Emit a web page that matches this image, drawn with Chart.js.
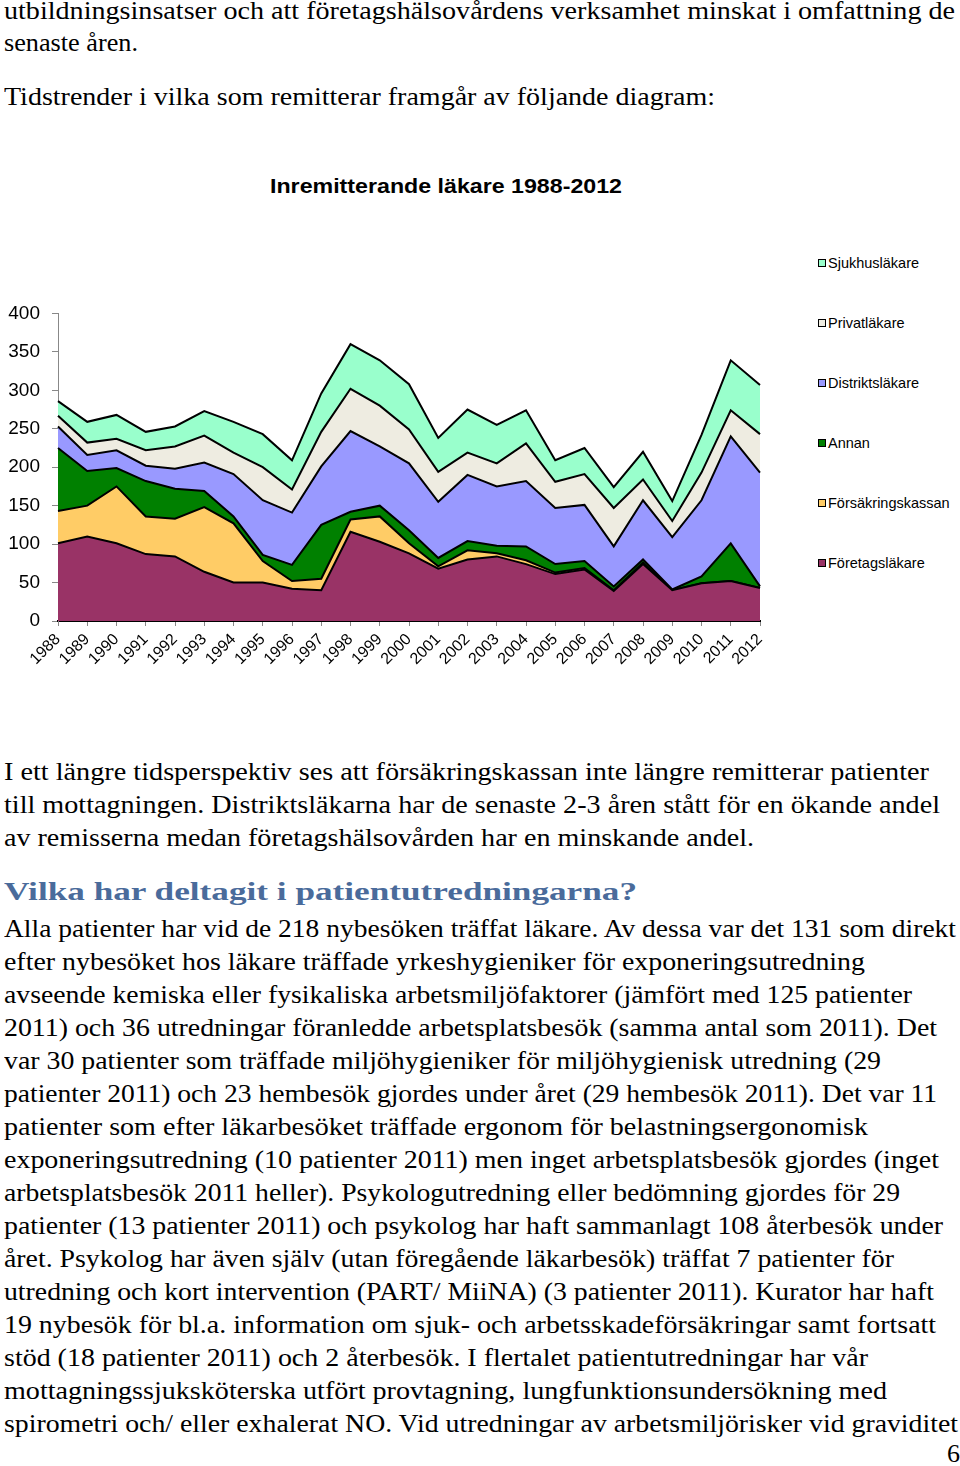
<!DOCTYPE html>
<html lang="sv">
<head>
<meta charset="utf-8">
<script src="https://cdn.jsdelivr.net/npm/chart.js@4.4.0/dist/chart.umd.min.js"></script>
<style>
  html, body { margin: 0; padding: 0; background: #fff; }
  body { width: 960px; height: 1466px; position: relative; overflow: hidden; }
  .ln {
    position: absolute; left: 4px; white-space: nowrap;
    font-family: "Liberation Serif", "Times New Roman", serif;
    font-size: 26px; line-height: 26px; color: #000;
    transform-origin: 0 0;
  }
  .ln.head { font-weight: bold; color: #4a6b9b; }
  #chartTitle {
    position: absolute; left: 270px; top: 175px; white-space: nowrap;
    font-family: "Liberation Sans", Arial, sans-serif; font-weight: bold;
    font-size: 21px; line-height: 21px; color: #000; transform-origin: 0 0;
  }
  #chartWrap { position: absolute; left: 0; top: 290px; width: 780px; height: 400px; }
  .lg {
    position: absolute; left: 818px; height: 16px; display: flex; align-items: center;
    font-family: "Liberation Sans", Arial, sans-serif; font-size: 14.5px; color: #000; white-space: nowrap;
  }
  .lg i { display: inline-block; width: 6px; height: 6px; border: 1.5px solid #000; margin-right: 2px; }
</style>
</head>
<body>
<div id="chartTitle">Inremitterande läkare 1988-2012</div>
<div id="chartWrap"><canvas id="areaChart"></canvas></div>
<div id="legend"></div>

<script>
// chart data
const years = ["1988", "1989", "1990", "1991", "1992", "1993", "1994", "1995", "1996", "1997", "1998", "1999",
    "2000", "2001", "2002", "2003", "2004", "2005", "2006", "2007", "2008", "2009", "2010", "2011", "2012"];
const foretagslakare = [101, 110, 101, 87, 84, 64, 50, 50, 42, 40, 116, 103, 88, 68, 80, 84, 74, 61, 67, 39, 74, 40, 49, 52, 43];
const forsakringskassan = [42, 40, 74, 49, 49, 84, 77, 28, 10, 15, 16, 33, 13, 3, 12, 4, 5, 2, 2, 1, 2, 0, 0, 0, 0];
const annan = [82, 45, 24, 46, 39, 21, 9, 8, 21, 70, 10, 14, 17, 11, 12, 10, 18, 11, 9, 5, 4, 1, 9, 49, 2];
const distriktslakare = [28, 21, 23, 20, 26, 37, 55, 71, 68, 76, 105, 77, 87, 73, 86, 77, 85, 73, 73, 52, 77, 68, 99, 139, 148];
const privatlakare = [14, 16, 15, 20, 29, 35, 28, 43, 30, 45, 55, 53, 44, 39, 29, 30, 49, 34, 40, 50, 27, 21, 36, 34, 50];
const sjukhuslakare = [19, 27, 31, 24, 26, 32, 40, 43, 38, 50, 58, 59, 59, 44, 56, 50, 43, 28, 34, 27, 36, 26, 49, 65, 64];
const seriesNames = ["Företagsläkare", "Försäkringskassan", "Annan", "Distriktsläkare", "Privatläkare", "Sjukhusläkare"];
const seriesValues = [foretagslakare, forsakringskassan, annan, distriktslakare, privatlakare, sjukhuslakare];
const seriesColors = ["#993366", "#ffcc66", "#008000", "#9999ff", "#eeece1", "#99ffcc"];
const yMin = 0, yMax = 400, yStep = 50;

// page text: [text, baseline, right edge, class]
const textLines = [
    ["utbildningsinsatser och att företagshälsovårdens verksamhet minskat i omfattning de", 20, 955],
    ["senaste åren.", 52, 138],
    ["Tidstrender i vilka som remitterar framgår av följande diagram:", 106, 715],
    ["I ett längre tidsperspektiv ses att försäkringskassan inte längre remitterar patienter", 781, 929],
    ["till mottagningen. Distriktsläkarna har de senaste 2-3 åren stått för en ökande andel", 814, 940],
    ["av remisserna medan företagshälsovården har en minskande andel.", 847, 754],
    ["Vilka har deltagit i patientutredningarna?", 901, 637, "head"],
    ["Alla patienter har vid de 218 nybesöken träffat läkare. Av dessa var det 131 som direkt", 938, 956],
    ["efter nybesöket hos läkare träffade yrkeshygieniker för exponeringsutredning", 971, 865],
    ["avseende kemiska eller fysikaliska arbetsmiljöfaktorer (jämfört med 125 patienter", 1004, 912],
    ["2011) och 36 utredningar föranledde arbetsplatsbesök (samma antal som 2011). Det", 1037, 937],
    ["var 30 patienter som träffade miljöhygieniker för miljöhygienisk utredning (29", 1070, 881],
    ["patienter 2011) och 23 hembesök gjordes under året (29 hembesök 2011). Det var 11", 1103, 937],
    ["patienter som efter läkarbesöket träffade ergonom för belastningsergonomisk", 1136, 868],
    ["exponeringsutredning (10 patienter 2011) men inget arbetsplatsbesök gjordes (inget", 1169, 939],
    ["arbetsplatsbesök 2011 heller). Psykologutredning eller bedömning gjordes för 29", 1202, 900],
    ["patienter (13 patienter 2011) och psykolog har haft sammanlagt 108 återbesök under", 1235, 943],
    ["året. Psykolog har även själv (utan föregående läkarbesök) träffat 7 patienter för", 1268, 894],
    ["utredning och kort intervention (PART/ MiiNA) (3 patienter 2011). Kurator har haft", 1301, 934],
    ["19 nybesök för bl.a. information om sjuk- och arbetsskadeförsäkringar samt fortsatt", 1334, 936],
    ["stöd (18 patienter 2011) och 2 återbesök. I flertalet patientutredningar har vår", 1367, 868],
    ["mottagningssjuksköterska utfört provtagning, lungfunktionsundersökning med", 1400, 887],
    ["spirometri och/ eller exhalerat NO. Vid utredningar av arbetsmiljörisker vid graviditet", 1433, 958]
];

textLines.forEach(([txt, base, right, cls]) => {
    const el = document.createElement("div");
    el.className = "ln" + (cls ? " " + cls : "");
    el.textContent = txt;
    el.style.top = (base - 21.8) + "px";
    document.body.appendChild(el);
    const w = el.getBoundingClientRect().width;
    el.style.transform = "scaleX(" + ((right - 4) / w) + ")";
});

const pageNo = document.createElement("div");
pageNo.className = "ln";
pageNo.textContent = "6";
pageNo.style.left = "947px";
pageNo.style.top = (1463 - 21.8) + "px";
document.body.appendChild(pageNo);

const titleEl = document.getElementById("chartTitle");
titleEl.style.transform = "scaleX(" + (352 / titleEl.getBoundingClientRect().width) + ")";

// legend, top item is the top layer
const legendEl = document.getElementById("legend");
seriesNames.slice().reverse().forEach((name, i) => {
    const idx = seriesNames.length - 1 - i;
    const row = document.createElement("div");
    row.className = "lg";
    row.style.top = (255 + i * 60) + "px";
    row.innerHTML = '<i style="background:' + seriesColors[idx] + '"></i>' + name;
    legendEl.appendChild(row);
});

Chart.defaults.font.family = '"Liberation Sans", Arial, sans-serif';
Chart.defaults.color = "#000";

new Chart(document.getElementById("areaChart"), {
    type: "line",
    data: {
        labels: years,
        datasets: seriesNames.map((name, i) => ({
            label: name,
            data: seriesValues[i],
            backgroundColor: seriesColors[i],
            borderColor: "#000",
            borderWidth: 2,
            fill: i === 0 ? "origin" : "-1",
            pointRadius: 0,
            tension: 0
        }))
    },
    options: {
        responsive: true,
        maintainAspectRatio: false,
        animation: false,
        layout: { padding: { top: 23, right: 20, left: 0, bottom: 0 } },
        plugins: {
            legend: { display: false },
            tooltip: { enabled: false }
        },
        scales: {
            x: {
                offset: false,
                grid: { drawOnChartArea: false, drawTicks: true, tickLength: 5, color: "#888" },
                border: { color: "#000", width: 2 },
                ticks: { font: { size: 16 }, minRotation: 45, maxRotation: 45, autoSkip: false, padding: 4 },
                afterFit: (scale) => { scale.height = 69; }
            },
            y: {
                stacked: true,
                min: yMin,
                max: yMax,
                grid: { drawOnChartArea: false, drawTicks: true, tickLength: 6, color: "#888" },
                border: { color: "#888", width: 1 },
                ticks: { stepSize: yStep, font: { size: 19 }, padding: 12 },
                afterFit: (scale) => { scale.width = 58; }
            }
        }
    }
});
</script>
</body>
</html>
